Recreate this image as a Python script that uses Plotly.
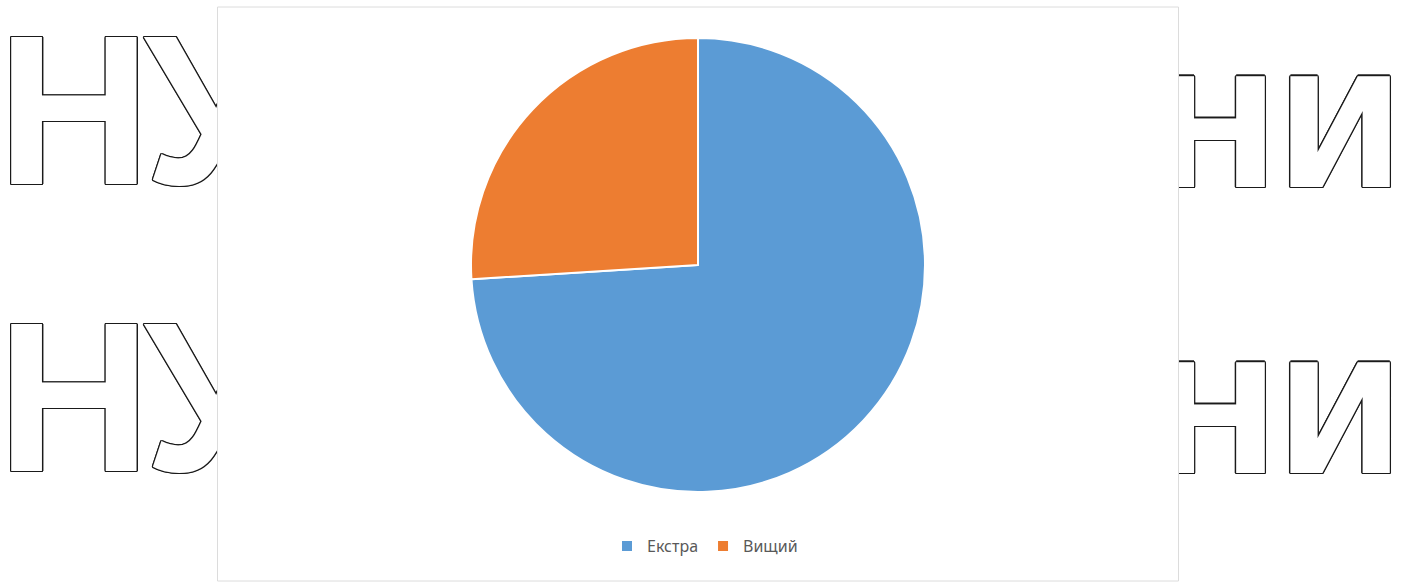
import plotly.graph_objects as go

# Data
categories = ["Екстра", "Вищий"]
values = [74, 26]
colors = ["#5B9BD5", "#ED7D31"]

# Decorative background lettering (left and right pieces of a word behind the chart)
left_letters = ["Н", "У"]
right_letters = ["Н", "И"]

W, H = 1410, 584

def px_x(x):
    return x / W

def px_y(y):
    return 1 - y / H

outline = ", ".join(
    f"{dx}px {dy}px 0 #1a1a1a"
    for dx, dy in [(1.3, 0), (-1.3, 0), (0, 1.3), (0, -1.3),
                   (1, 1), (-1, -1), (1, -1), (-1, 1)]
)

shapes = []

def letter_shape(ch, cx, cy, size, family):
    return dict(
        type="rect", xref="paper", yref="paper",
        x0=px_x(cx - 5), x1=px_x(cx + 5), y0=px_y(cy + 5), y1=px_y(cy - 5),
        line=dict(width=0), fillcolor="rgba(0,0,0,0)", layer="below",
        label=dict(text=ch, textposition="middle center", padding=0,
                   font=dict(family=family, size=size, color="white",
                             weight="bold", shadow=outline)),
    )

left_size = 213
right_size = 152
left_x = [74, 210]
right_x = [1215, 1340]
left_rows = [90, 377]
right_rows = [123, 409]

for cy in left_rows:
    for ch, cx in zip(left_letters, left_x):
        shapes.append(letter_shape(ch, cx, cy, left_size, "Liberation Sans"))
for cy in right_rows:
    for ch, cx in zip(right_letters, right_x):
        shapes.append(letter_shape(ch, cx, cy, right_size, "DejaVu Sans"))

# White chart box
shapes.append(dict(
    type="rect", xref="paper", yref="paper",
    x0=px_x(217.5), x1=px_x(1178.5), y0=px_y(581), y1=px_y(7),
    line=dict(color="#dcdcdc", width=1), fillcolor="white", layer="below",
))

cx, cy, r = 698, 265, 227

fig = go.Figure(go.Pie(
    labels=categories,
    values=values,
    marker=dict(colors=colors, line=dict(color="white", width=2)),
    sort=False,
    direction="clockwise",
    rotation=0,
    textinfo="none",
    domain=dict(x=[px_x(cx - r), px_x(cx + r)], y=[px_y(cy + r), px_y(cy - r)]),
))

fig.update_layout(
    width=W, height=H,
    margin=dict(l=0, r=0, t=0, b=0),
    paper_bgcolor="white",
    plot_bgcolor="white",
    shapes=shapes,
    showlegend=True,
    legend=dict(
        orientation="h", x=0.5, xanchor="center",
        y=px_y(546), yanchor="middle",
        font=dict(family="Noto Sans", size=16, color="#595959"),
        itemsizing="constant",
    ),
)

fig.write_html("out.html")
